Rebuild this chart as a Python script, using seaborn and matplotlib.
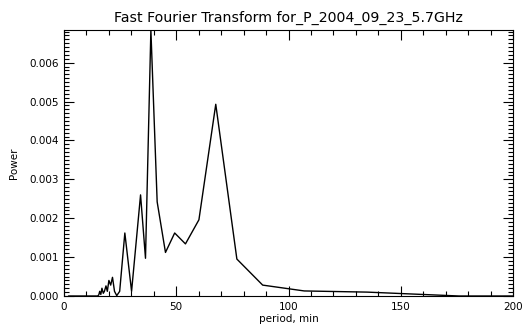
import matplotlib
matplotlib.use("Agg")
import matplotlib.pyplot as plt
import seaborn as sns
import pandas as pd
from matplotlib.ticker import MultipleLocator, FormatStrFormatter

period = [2.0, 4.0, 6.0, 8.0, 10.0, 12.0, 13.5, 14.6, 15.0, 15.5, 15.9, 16.4,
          16.9, 17.5, 18.0, 18.7, 19.3, 20.0, 20.8, 21.6, 22.5, 23.5, 24.8,
          27.1, 30.1, 34.1, 36.3, 38.7, 41.5, 45.2, 49.3, 54.1, 60.1, 67.6,
          77.0, 88.5, 107.0, 135.0, 176.0, 270.0]
power = [0.0, 0.0, 0.0, 0.0, 0.0, 0.0, 0.0, 0.0, 0.0, 0.00003, 0.00012, 0.00004,
         0.00020, 0.00007, 0.00012, 0.00026, 0.00012, 0.00040, 0.00028, 0.00048,
         0.00012, 0.00001, 0.00012, 0.00162, 0.00012, 0.00260, 0.00097, 0.00684,
         0.00242, 0.00112, 0.00162, 0.00134, 0.00196, 0.00493, 0.00095, 0.00028,
         0.00013, 0.00010, 0.0, 0.0]

title = "Fast Fourier Transform for_P_2004_09_23_5.7GHz"
xlabel = "period, min"
ylabel = "Power"

sns.set_theme(style="ticks")
plt.rcParams['font.family'] = ['DejaVu Sans']

df = pd.DataFrame({"period": period, "power": power})

fig = plt.figure(figsize=(5.31, 3.24), dpi=100)
ax = fig.add_axes([64/531, 1-296/324, (513-64)/531, (296-30)/324])
sns.lineplot(data=df, x="period", y="power", ax=ax, color="black",
             linewidth=1.0, sort=False, estimator=None)

ax.set_xlim(0, 200)
ax.set_ylim(0, 0.00684)
ax.xaxis.set_major_locator(MultipleLocator(50))
ax.xaxis.set_minor_locator(MultipleLocator(10))
ax.yaxis.set_major_locator(MultipleLocator(0.001))
ax.yaxis.set_minor_locator(MultipleLocator(0.0001))
ax.yaxis.set_major_formatter(FormatStrFormatter("%.3f"))
ax.tick_params(axis="both", which="both", direction="in", top=True, right=True,
               color="black", width=0.8, labelsize=7.5, labelcolor="black", pad=4)
ax.tick_params(which="major", length=7)
ax.tick_params(which="minor", length=3.5)
for s in ax.spines.values():
    s.set_color("black")
    s.set_linewidth(0.8)

ax.set_title(title, fontsize=10.2, color="black", pad=6)
ax.set_xlabel(xlabel, fontsize=7.5, color="black", labelpad=2)
ax.set_ylabel(ylabel, fontsize=7.5, color="black", labelpad=7)

fig.savefig("out.png", dpi=100)
